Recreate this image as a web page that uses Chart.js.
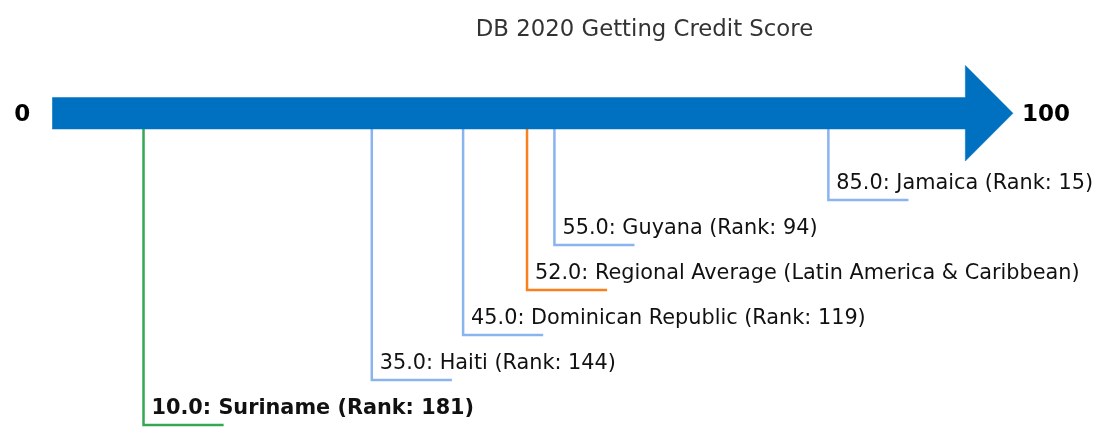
<!DOCTYPE html>
<html>
<head>
<meta charset="utf-8">
<script src="https://cdn.jsdelivr.net/npm/chart.js@4.4.0/dist/chart.umd.min.js"></script>
<style>
  html, body { margin: 0; padding: 0; background: #ffffff; }
  #wrap { width: 1095px; height: 427px; position: relative; }
</style>
</head>
<body>
<div id="wrap"><canvas id="c"></canvas></div>
<script>
// ---- data ----
const titleText = 'DB 2020 Getting Credit Score';
const categories = ['Jamaica', 'Guyana', 'Regional Average (Latin America & Caribbean)', 'Dominican Republic', 'Haiti', 'Suriname'];
const scores = [85.0, 55.0, 52.0, 45.0, 35.0, 10.0];
const ranks = [15, 94, null, 119, 144, 181];
const kinds = ['peer', 'peer', 'average', 'peer', 'peer', 'focus'];
const scaleEnds = [0, 100];

// ---- layout / style ----
const ROW_TOP = 200, ROW_STEP = 45;
const BAR_CENTER = 113.25, BAR_HALF = 15.75, HEAD_HALF = 47.8, HEAD_LEN = 5.22;
const LEADER_LEN = 8.77;
const kindColor = { peer: '#8ab4f0', average: '#f9801d', focus: '#34a853' };
const ARROW_COLOR = '#0070c0';
const FONT = '"DejaVu Sans", Verdana, sans-serif';

const lo = scaleEnds[0], hi = scaleEnds[1];
const arrowPts = [
  { x: lo, y: BAR_CENTER - BAR_HALF },
  { x: hi, y: BAR_CENTER - BAR_HALF },
  { x: hi, y: BAR_CENTER - HEAD_HALF },
  { x: hi + HEAD_LEN, y: BAR_CENTER },
  { x: hi, y: BAR_CENTER + HEAD_HALF },
  { x: hi, y: BAR_CENTER + BAR_HALF },
  { x: lo, y: BAR_CENTER + BAR_HALF }
];

const datasets = [{
  data: arrowPts,
  fill: 'shape',
  backgroundColor: ARROW_COLOR,
  borderColor: ARROW_COLOR,
  borderWidth: 0.5,
  pointRadius: 0,
  tension: 0
}];

scores.forEach((s, i) => {
  const rowY = ROW_TOP + i * ROW_STEP;
  datasets.push({
    data: [
      { x: s, y: BAR_CENTER + BAR_HALF },
      { x: s, y: rowY },
      { x: s + LEADER_LEN, y: rowY }
    ],
    fill: false,
    borderColor: kindColor[kinds[i]],
    borderWidth: 2.5,
    borderCapStyle: 'butt',
    borderJoinStyle: 'miter',
    pointRadius: 0,
    tension: 0
  });
});

const textPlugin = {
  id: 'texts',
  afterDatasetsDraw(chart) {
    const ctx = chart.ctx;
    const xs = chart.scales.x, ys = chart.scales.y;
    ctx.save();
    // title
    ctx.fillStyle = '#333333';
    ctx.font = '22.8px ' + FONT;
    ctx.textAlign = 'center';
    ctx.textBaseline = 'alphabetic';
    ctx.fillText(titleText, 644.5, 36);
    // scale end labels
    ctx.fillStyle = '#000000';
    ctx.font = 'bold 23px ' + FONT;
    const baseY = ys.getPixelForValue(BAR_CENTER) + 8;
    ctx.textAlign = 'right';
    ctx.fillText(String(scaleEnds[0]), xs.getPixelForValue(lo) - 22, baseY);
    ctx.textAlign = 'left';
    ctx.fillText(String(scaleEnds[1]), xs.getPixelForValue(hi + HEAD_LEN) + 9, baseY);
    // item labels
    scores.forEach((s, i) => {
      const rowY = ROW_TOP + i * ROW_STEP;
      const txt = s.toFixed(1) + ': ' + categories[i] + (ranks[i] != null ? ' (Rank: ' + ranks[i] + ')' : '');
      ctx.font = (kinds[i] === 'focus' ? 'bold ' : '') + '20.8px ' + FONT;
      ctx.fillStyle = '#111111';
      ctx.textAlign = 'left';
      ctx.fillText(txt, xs.getPixelForValue(s) + 8, ys.getPixelForValue(rowY) - 11);
    });
    ctx.restore();
  }
};

new Chart(document.getElementById('c'), {
  type: 'line',
  data: { datasets },
  options: {
    responsive: true,
    maintainAspectRatio: false,
    animation: false,
    events: [],
    layout: { padding: 0 },
    plugins: { legend: { display: false }, tooltip: { enabled: false }, title: { display: false } },
    scales: {
      x: { type: 'linear', min: -5.717, max: 114.2, display: false },
      y: { type: 'linear', min: 0, max: 427, reverse: true, display: false }
    }
  },
  plugins: [textPlugin]
});
</script>
</body>
</html>
